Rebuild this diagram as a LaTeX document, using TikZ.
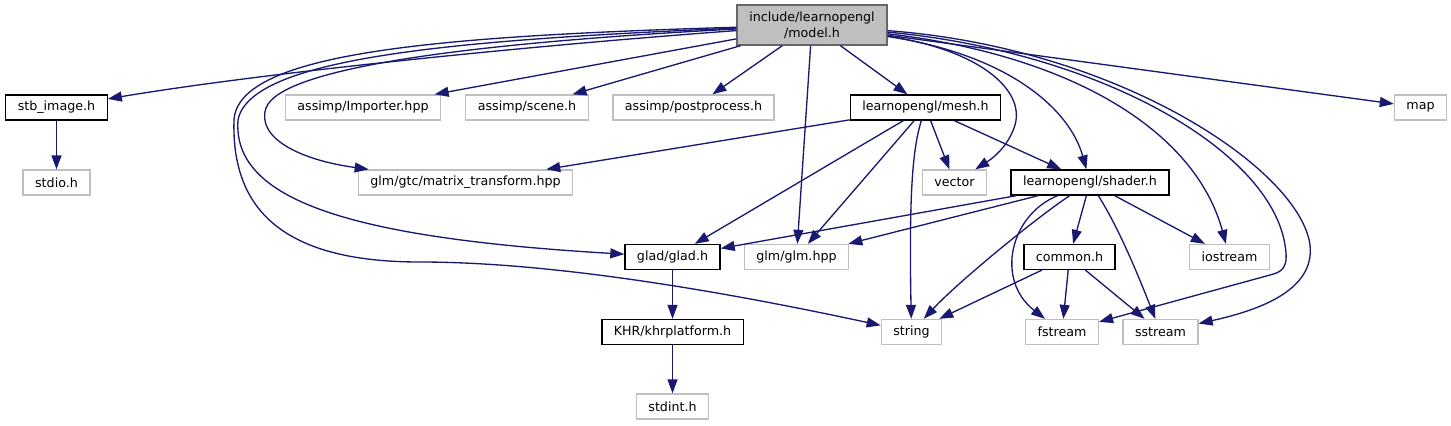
\documentclass[tikz,border=0pt]{standalone}
\usepackage{fontspec}
\setmainfont{DejaVu Sans}
\usetikzlibrary{arrows.meta}

\begin{document}
\begin{tikzpicture}[
    % Una unidad = un píxel de la imagen original (eje y hacia abajo)
    x=0.75pt, y=-0.75pt,
    % Estilo de las cabeceras del proyecto
    header/.style={
        draw=black, line width=1pt, text=black,
        inner xsep=9pt, inner ysep=0pt, minimum height=18.75pt,
        font=\fontsize{9.5}{12}\selectfont
    },
    % Cabeceras externas (borde gris)
    sysheader/.style={header, draw=sysgrey},
    % Flechas de inclusión
    incl/.style={
        draw=edgeblue, line width=1pt,
        -{Triangle[length=10.5pt, width=7.5pt]}
    }
]
    % Configuración de colores
    \definecolor{sysgrey}{RGB}{191, 191, 191}
    \definecolor{edgeblue}{RGB}{25, 25, 112}

    % Ordenadas de cada nivel del grafo
    \def\nivelA{107.5}
    \def\nivelB{182.5}
    \def\nivelC{257}
    \def\nivelD{332}
    \def\nivelE{406.5}

    % Márgenes de la imagen
    \useasboundingbox (0,0) rectangle (1451,425);

    % Nodo raíz
    \node [header, draw=black!60, fill=sysgrey, align=center,
           minimum width=112.5pt, minimum height=30pt] (model) at (812,25)
          {include/learnopengl\\/model.h};

    % Nivel 1
    \node [header]    (stbimage)    at (56.5,\nivelA)   {stb\_image.h};
    \node [sysheader] (importer)    at (363,\nivelA)    {assimp/Importer.hpp};
    \node [sysheader] (scene)       at (527,\nivelA)    {assimp/scene.h};
    \node [sysheader] (postprocess) at (693.5,\nivelA)  {assimp/postprocess.h};
    \node [header]    (mesh)        at (925.5,\nivelA)  {learnopengl/mesh.h};
    \node [sysheader] (map)         at (1420.5,\nivelA) {map};

    % Nivel 2
    \node [sysheader] (stdio)  at (56.5,\nivelB)  {stdio.h};
    \node [sysheader] (matrix) at (465.5,\nivelB) {glm/gtc/matrix\_transform.hpp};
    \node [sysheader] (vector) at (954.5,\nivelB) {vector};
    \node [header]    (shader) at (1090,\nivelB)  {learnopengl/shader.h};

    % Nivel 3
    \node [header]    (glad)     at (672.5,\nivelC)  {glad/glad.h};
    \node [sysheader] (glm)      at (796.5,\nivelC)  {glm/glm.hpp};
    \node [header]    (common)   at (1069.5,\nivelC) {common.h};
    \node [sysheader] (iostream) at (1229.5,\nivelC) {iostream};

    % Nivel 4
    \node [header]    (khr)     at (672.5,\nivelD)  {KHR/khrplatform.h};
    \node [sysheader] (string)  at (911.5,\nivelD)  {string};
    \node [sysheader] (fstream) at (1062,\nivelD)   {fstream};
    \node [sysheader] (sstream) at (1160.5,\nivelD) {sstream};

    % Nivel 5
    \node [sysheader] (stdint) at (672.5,\nivelE) {stdint.h};

    % Inclusiones de model.h
    \draw [incl] (model) .. controls (500,48) and (250,75) .. (stbimage);
    \draw [incl] (model) -- (importer);
    \draw [incl] (model) -- (scene);
    \draw [incl] (model) -- (postprocess);
    \draw [incl] (model) -- (mesh);
    \draw [incl] (model) .. controls (450,44) and (280,70) .. (266,108)
                         .. controls (256,138) and (300,160) .. (matrix);
    \draw [incl] (model) .. controls (450,40) and (250,58) .. (238,120)
                         .. controls (232,200) and (350,238) .. (glad);
    \draw [incl] (model) .. controls (440,36) and (238,52) .. (234,120)
                         .. controls (231,215) and (290,262) .. (420,262)
                         .. controls (560,262) and (740,295) .. (string);
    \draw [incl] (model) -- (glm);
    \draw [incl] (model) .. controls (980,50) and (1025,90) .. (1015,125)
                         .. controls (1008,148) and (990,160) .. (vector);
    \draw [incl] (model) .. controls (1010,55) and (1070,110) .. (shader);
    \draw [incl] (model) .. controls (1070,55) and (1195,130) .. (iostream);
    \draw [incl] (model) .. controls (1100,52) and (1270,150) .. (1285,245)
                         .. controls (1289,268) and (1282,272) .. (1270,275)
                         -- (fstream);
    \draw [incl] (model) .. controls (1120,48) and (1300,170) .. (1310,245)
                         .. controls (1315,290) and (1260,310) .. (sstream);
    \draw [incl] (model) -- (map);

    % Inclusiones de mesh.h
    \draw [incl] (mesh) -- (matrix);
    \draw [incl] (mesh) -- (glad);
    \draw [incl] (mesh) -- (glm);
    \draw [incl] (mesh) .. controls (912,150) and (909,200) .. (string);
    \draw [incl] (mesh) -- (vector);
    \draw [incl] (mesh) -- (shader);

    % Inclusiones de shader.h
    \draw [incl] (shader) -- (glad);
    \draw [incl] (shader) -- (glm);
    \draw [incl] (shader) .. controls (1040,215) and (960,280) .. (string);
    \draw [incl] (shader) .. controls (1010,215) and (995,280) .. (fstream);
    \draw [incl] (shader) -- (common);
    \draw [incl] (shader) .. controls (1120,230) and (1140,280) .. (sstream);
    \draw [incl] (shader) -- (iostream);

    % Inclusiones de common.h
    \draw [incl] (common) -- (string);
    \draw [incl] (common) -- (fstream);
    \draw [incl] (common) -- (sstream);

    % Cadenas verticales
    \draw [incl] (stbimage) -- (stdio);
    \draw [incl] (glad) -- (khr);
    \draw [incl] (khr) -- (stdint);

\end{tikzpicture}
\end{document}
